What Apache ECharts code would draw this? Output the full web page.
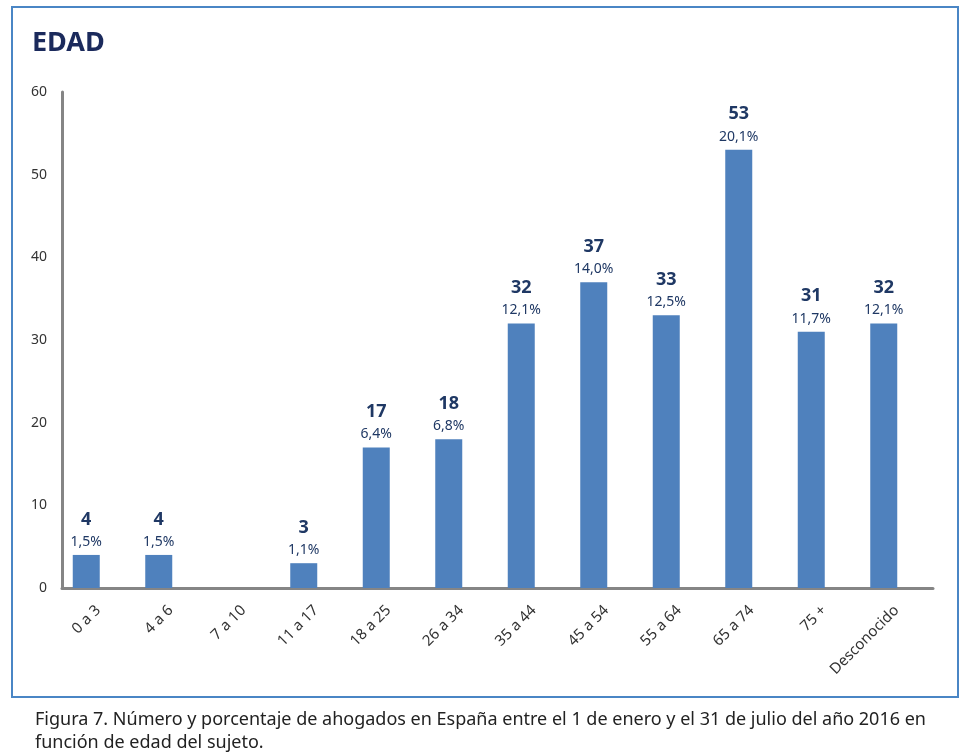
<!DOCTYPE html>
<html><head><meta charset="utf-8">
<script src="https://cdn.jsdelivr.net/npm/echarts@6/dist/echarts.min.js"></script>
<style>html,body{margin:0;padding:0;background:#fff}#c{width:974px;height:753px}</style>
</head><body><div id="c"></div>
<script>
const categories = ['0 a 3','4 a 6','7 a 10','11 a 17','18 a 25','26 a 34','35 a 44','45 a 54','55 a 64','65 a 74','75 +','Desconocido'];
const values = [4,4,0,3,17,18,32,37,33,53,31,32];
const percents = ['1,5%','1,5%','','1,1%','6,4%','6,8%','12,1%','14,0%','12,5%','20,1%','11,7%','12,1%'];
const yTicks = [0,10,20,30,40,50,60];
const titleText = 'EDAD';
const captionLines = ['Figura 7. Número y porcentaje de ahogados en España entre el 1 de enero y el 31 de julio del año 2016 en','función de edad del sujeto.'];

const chart = echarts.init(document.getElementById('c'));
const font = '"Noto Sans", "Open Sans", sans-serif';
chart.setOption({
  animation:false,
  backgroundColor:'#fff',
  graphic:[
    {type:'rect',shape:{x:12,y:7,width:946,height:690},style:{fill:'none',stroke:'#4a86c5',lineWidth:2},z:-1},
    {type:'text',left:32,top:30,style:{text:titleText,font:'bold 27px '+font,fill:'#1b2a5c'}},
    {type:'text',left:35,top:708,style:{text:captionLines.join('\n'),font:'18px '+font,fill:'#222',lineHeight:23}}
  ],
  grid:[
    {left:50,right:54,top:92,bottom:165,containLabel:false},
    {left:62,right:41,top:92,bottom:165,containLabel:false}
  ],
  xAxis:[
    {type:'category',data:categories,gridIndex:0,
      axisLine:{show:false},axisTick:{show:false},axisLabel:{show:false}},
    {type:'category',data:categories,gridIndex:1,
      axisLine:{lineStyle:{color:'#858585',width:3}},axisTick:{show:false},
      axisLabel:{rotate:45,color:'#333',fontSize:15,fontFamily:font,margin:20,interval:0}}
  ],
  yAxis:[
    {type:'value',min:0,max:60,interval:10,gridIndex:0,show:false,splitLine:{show:false}},
    {type:'value',min:0,max:60,interval:10,gridIndex:1,
      axisLine:{show:true,lineStyle:{color:'#858585',width:3}},
      axisTick:{show:false},splitLine:{show:false},
      axisLabel:{color:'#333',fontSize:14,fontFamily:font,margin:15,
        formatter:v=>yTicks.includes(v)?String(v):''}}
  ],
  series:[{type:'bar',data:values,barWidth:27,xAxisIndex:0,yAxisIndex:0,
    itemStyle:{color:'#4f81bd'},
    label:{show:true,position:'top',distance:4,
      formatter:p=>p.value?('{a|'+p.value+'}\n{b|'+percents[p.dataIndex]+'}'):'',
      rich:{a:{fontSize:18,fontWeight:'bold',color:'#1f3864',fontFamily:font,lineHeight:27},
            b:{fontSize:14,color:'#1f3864',fontFamily:font,lineHeight:18}}}}]
});
</script></body></html>
